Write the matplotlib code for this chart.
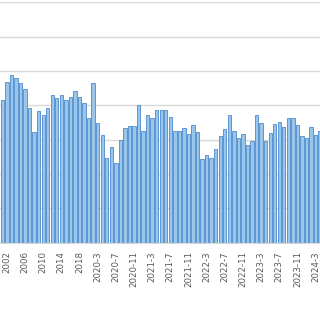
import matplotlib
matplotlib.use("Agg")
import matplotlib.pyplot as plt

# yearly values 2000-2019, then monthly from 2020-1 to 2024-4
years = [str(y) for y in range(2000, 2020)]
months = [f"{y}-{m}" for y in range(2020, 2025) for m in range(1, 13)][:52]
categories = years + months

values = [45.1, 41.6, 46.9, 48.9, 47.9, 46.5, 44.7, 39.2, 32.4, 38.3,
          37.3, 39.3, 42.9, 42.1, 42.9, 41.6, 42.6, 44.3, 42.6, 40.6,
          36.3, 46.5, 34.8, 31.5, 24.6, 27.9, 23.1, 29.9, 33.4, 34.0,
          34.1, 40.2, 32.6, 37.2, 36.4, 38.7, 38.7, 38.6, 36.7, 32.5,
          32.5, 33.5, 31.7, 34.2, 32.4, 24.5, 25.6, 24.6, 27.2, 31.1,
          33.0, 37.2, 32.6, 30.4, 31.7, 28.5, 29.7, 37.3, 34.8, 29.6,
          32.1, 34.5, 35.3, 33.6, 36.2, 36.2, 34.4, 31.1, 30.5, 33.6,
          31.3, 32.6]

fig = plt.figure(figsize=(3.2, 3.2), dpi=100)
# the chart is cropped: y labels on the left and the last bars on the right fall outside
ax = fig.add_axes([0, 0.2416, 1, 0.7506])

x = list(range(len(categories)))
ax.bar(x, values, width=0.74, color="#9cc5ea", edgecolor="#4a8ccf", linewidth=0.6, zorder=2)

ax.set_xlim(0.485, 70.97)
ax.set_ylim(0, 70)
ax.set_yticks(range(0, 71, 10))
ax.yaxis.grid(True, color="#d9d9d9", linewidth=1.0, zorder=0)
ax.set_yticklabels([])
ax.tick_params(axis="y", length=0)

ax.set_xticks(x[2::4])
ax.set_xticklabels(categories[2::4], rotation=90, fontsize=6.2, color="#595959")
ax.tick_params(axis="x", length=0, pad=6)

for side in ["top", "left", "right"]:
    ax.spines[side].set_visible(False)
ax.spines["bottom"].set_color("#d9d9d9")

fig.savefig("out.png", dpi=100)
